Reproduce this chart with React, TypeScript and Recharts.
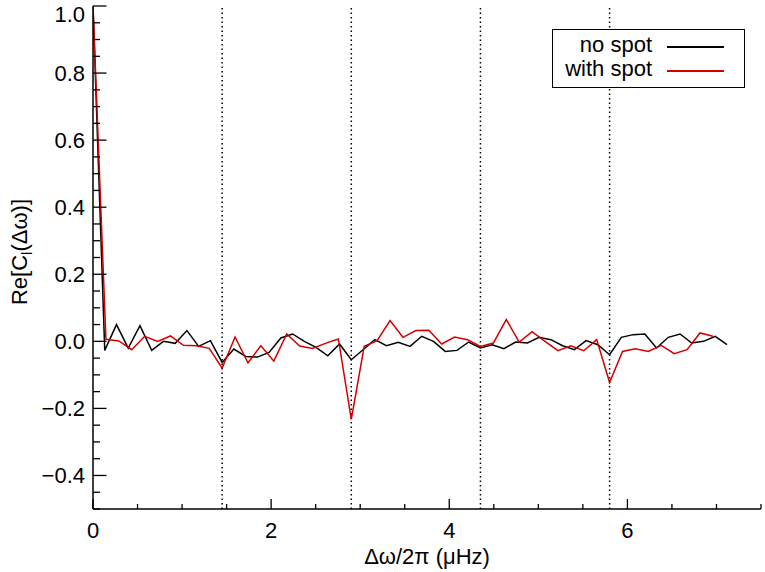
import React from 'react'
import { LineChart, Line, XAxis, YAxis, ReferenceLine } from 'recharts'

// frequency spacing of the two spectra (µHz)
const NO_SPOT_STEP = 1.45 / 11
const WITH_SPOT_STEP = 0.145

const NO_SPOT = [
  1.0, -0.027, 0.05, -0.02, 0.047, -0.027, 0.0, -0.006, 0.032, -0.015,
  0.002, -0.063, -0.023, -0.045, -0.047, -0.033, 0.01, 0.022, 0.0, -0.018,
  -0.043, -0.008, -0.055, -0.025, 0.005, -0.013, -0.003, -0.015, 0.015, 0.0,
  -0.03, -0.027, -0.002, -0.02, -0.01, -0.022, -0.002, -0.005, 0.012, 0.005,
  -0.013, -0.025, 0.002, -0.01, -0.04, 0.012, 0.02, 0.022, -0.02, 0.012,
  0.022, -0.005, 0.0, 0.015, -0.01,
]

const WITH_SPOT = [
  1.0, 0.006, 0.001, -0.025, 0.015, 0.0, 0.016, -0.012, -0.013, -0.021,
  -0.08, 0.013, -0.064, -0.013, -0.059, 0.022, -0.014, -0.021, -0.006, 0.007,
  -0.233, -0.015, 0.002, 0.062, 0.012, 0.032, 0.033, -0.008, 0.013, 0.005,
  -0.015, -0.005, 0.065, -0.002, 0.029, 0.0, -0.028, -0.013, -0.028, 0.005,
  -0.123, -0.03, -0.022, -0.03, -0.012, -0.037, -0.025, 0.025, 0.015,
]

const SPLITTINGS = [1.45, 2.9, 4.35, 5.8]

const X_TICKS = [0, 0.5, 1, 1.5, 2, 2.5, 3, 3.5, 4, 4.5, 5, 5.5, 6, 6.5, 7, 7.5]
const X_LABELS = [0, 2, 4, 6]

const Y_TICKS = [
  -0.5, -0.45, -0.4, -0.35, -0.3, -0.25, -0.2, -0.15, -0.1, -0.05, 0,
  0.05, 0.1, 0.15, 0.2, 0.25, 0.3, 0.35, 0.4, 0.45, 0.5, 0.55, 0.6,
  0.65, 0.7, 0.75, 0.8, 0.85, 0.9, 0.95, 1.0,
]
const Y_LABELS = [-0.4, -0.2, 0, 0.2, 0.4, 0.6, 0.8, 1.0]

const noSpot = NO_SPOT.map((c, i) => ({ f: i * NO_SPOT_STEP, c }))
const withSpot = WITH_SPOT.map((c, i) => ({ f: i * WITH_SPOT_STEP, c }))

const FONT = '"Liberation Sans", Arial, Helvetica, sans-serif'
const RED = '#d40000'
const isLabel = (list: number[], v: number) => list.some(l => Math.abs(l - v) < 1e-6)
const fmtY = (v: number) => (v < 0 ? '\u2212' + Math.abs(v).toFixed(1) : v.toFixed(1))

const XTick = ({ x, y, payload, top }: any) => {
  const major = isLabel(X_LABELS, payload.value)
  const len = major ? 10 : 5
  const dir = top ? 1 : -1
  return (
    <g>
      <line x1={x} x2={x} y1={y} y2={y + dir * len} stroke="#000" strokeWidth={1.3} />
      {!top && major && (
        <text x={x} y={y + 29} textAnchor="middle" fontSize={22} fontFamily={FONT} fill="#000">
          {payload.value}
        </text>
      )}
    </g>
  )
}

const YTick = ({ x, y, payload, right }: any) => {
  const major = isLabel(Y_LABELS, payload.value)
  const len = major ? 13.5 : 7
  const dir = right ? -1 : 1
  // the top label sits just inside the picture, as in the original
  const ty = Math.max(y, 14)
  return (
    <g>
      <line x1={x} x2={x + dir * len} y1={y} y2={y} stroke="#000" strokeWidth={1.3} />
      {!right && major && (
        <text x={x - 8} y={ty} dy="0.36em" textAnchor="end" fontSize={22} fontFamily={FONT} fill="#000">
          {fmtY(payload.value)}
        </text>
      )}
    </g>
  )
}

const YTitle = () => (
  <text
    transform="translate(27,252) rotate(-90)"
    textAnchor="middle"
    fontSize={22}
    fontFamily={FONT}
    fill="#000"
  >
    Re[C<tspan fontSize={15} dy={5}>l</tspan>
    <tspan dy={-5}>(Δω)]</tspan>
  </text>
)

const axisLine = { stroke: '#000', strokeWidth: 1.5 }

export default function App() {
  return (
    <div style={{ position: 'absolute', left: 0, top: 0, width: 765, height: 572, background: '#fff', fontFamily: FONT }}>
      <LineChart width={765} height={572} margin={{ top: 6, right: 4, bottom: 0, left: 0 }}>
        <XAxis
          type="number"
          dataKey="f"
          domain={[0, 7.5]}
          ticks={X_TICKS}
          interval={0}
          allowDataOverflow
          height={63}
          tickSize={0}
          tickMargin={0}
          tickLine={false}
          axisLine={axisLine}
          tick={<XTick />}
          label={{
            value: 'Δω/2π (μHz)',
            position: 'insideBottom',
            offset: 8,
            fontSize: 22,
            fontFamily: FONT,
            fill: '#000',
          }}
        />
        <XAxis
          xAxisId="top"
          orientation="top"
          type="number"
          dataKey="f"
          domain={[0, 7.5]}
          ticks={X_TICKS}
          interval={0}
          allowDataOverflow
          height={0}
          tickSize={0}
          tickMargin={0}
          tickLine={false}
          axisLine={axisLine}
          tick={<XTick top />}
        />
        <YAxis
          type="number"
          domain={[-0.5, 1.0]}
          ticks={Y_TICKS}
          interval={0}
          allowDataOverflow
          width={93}
          tickSize={0}
          tickMargin={0}
          tickLine={false}
          axisLine={axisLine}
          tick={<YTick />}
          label={{ content: () => <YTitle /> }}
        />
        <YAxis
          yAxisId="right"
          orientation="right"
          type="number"
          domain={[-0.5, 1.0]}
          ticks={Y_TICKS}
          interval={0}
          allowDataOverflow
          width={0}
          tickSize={0}
          tickMargin={0}
          tickLine={false}
          axisLine={axisLine}
          tick={<YTick right />}
        />
        {SPLITTINGS.map(s => (
          <ReferenceLine key={s} x={s} stroke="#000" strokeWidth={1.5} strokeDasharray="1.5 3" />
        ))}
        <Line
          data={noSpot}
          dataKey="c"
          type="linear"
          stroke="#000"
          strokeWidth={1.5}
          dot={false}
          isAnimationActive={false}
        />
        <Line
          data={withSpot}
          dataKey="c"
          type="linear"
          stroke={RED}
          strokeWidth={1.5}
          dot={false}
          isAnimationActive={false}
        />
      </LineChart>
      <div
        style={{
          position: 'absolute',
          left: 552,
          top: 29,
          width: 193,
          height: 59,
          boxSizing: 'border-box',
          border: '1.5px solid #000',
          background: '#fff',
          fontSize: 22,
          lineHeight: '22px',
        }}
      >
        <div style={{ position: 'absolute', right: 92, top: 4, whiteSpace: 'nowrap' }}>no spot</div>
        <div style={{ position: 'absolute', left: 114, top: 16, width: 57, height: 1.5, background: '#000' }} />
        <div style={{ position: 'absolute', right: 92, top: 28, whiteSpace: 'nowrap' }}>with spot</div>
        <div style={{ position: 'absolute', left: 114, top: 40, width: 57, height: 1.5, background: RED }} />
      </div>
    </div>
  )
}
